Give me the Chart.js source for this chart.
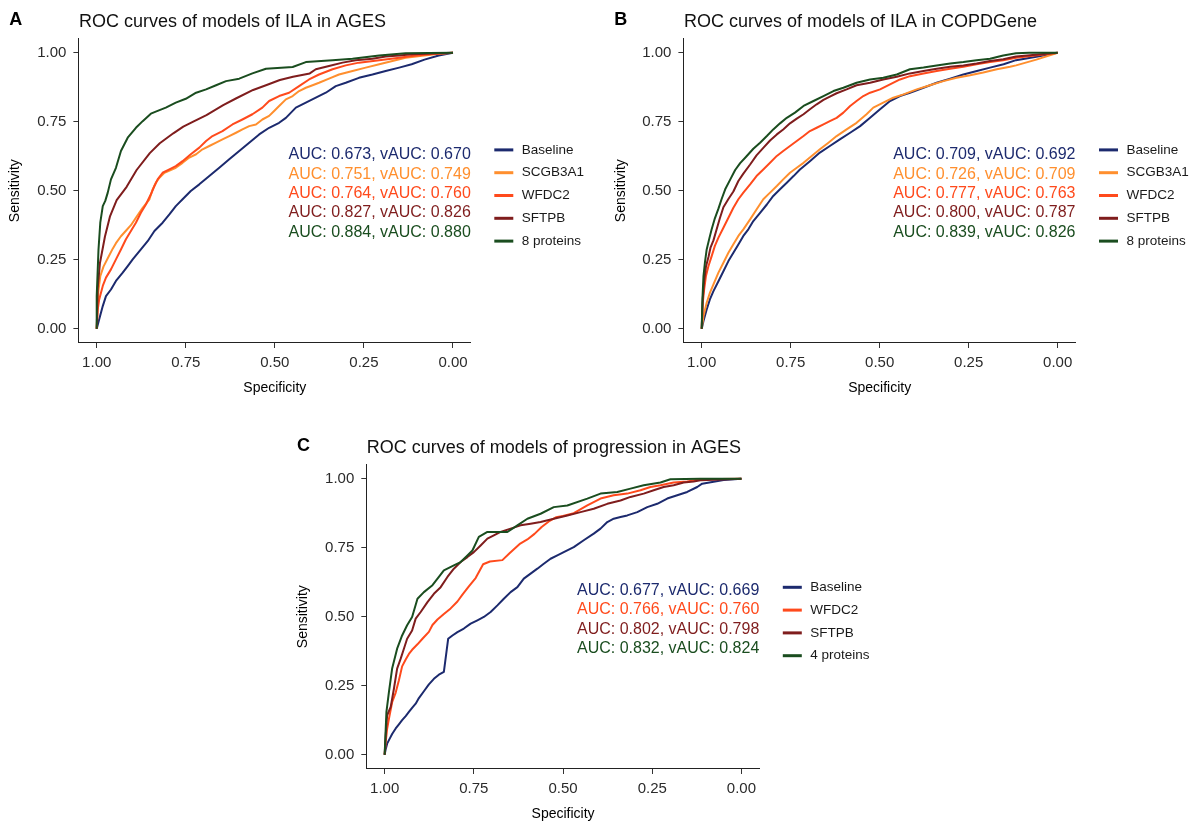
<!DOCTYPE html>
<html>
<head>
<meta charset="utf-8">
<title>ROC curves of protein models</title>
<script src="https://cdn.jsdelivr.net/npm/chart.js@4.4.1/dist/chart.umd.min.js"></script>
<style>
  html, body { margin: 0; padding: 0; background: #ffffff; }
  body { width: 1200px; height: 822px; position: relative; overflow: hidden; }
  canvas { position: absolute; }
</style>
</head>
<body>
<canvas id="panelA" width="600" height="410" style="left:0px;top:0px"></canvas>
<canvas id="panelB" width="600" height="410" style="left:600px;top:0px"></canvas>
<canvas id="panelC" width="600" height="402" style="left:290px;top:420px"></canvas>
<script>
// ---------- tick values ----------
const SPEC_TICKS = [0, 0.25, 0.5, 0.75, 1];
const SENS_TICKS = [0, 0.25, 0.5, 0.75, 1];

// ---------- A: ILA in AGES ----------
const agesIlaModels = ['Baseline', 'SCGB3A1', 'WFDC2', 'SFTPB', '8 proteins'];
const agesIlaAuc  = [0.673, 0.751, 0.764, 0.827, 0.884];
const agesIlaVAuc = [0.670, 0.749, 0.760, 0.826, 0.880];
// [specificity, sensitivity]
const agesIlaBaseline = [[1,0],[0.993,0.034],[0.983,0.082],[0.974,0.118],[0.960,0.142],[0.946,0.173],[0.927,0.203],[0.913,0.227],[0.899,0.251],[0.876,0.287],[0.857,0.317],[0.838,0.354],[0.815,0.384],[0.796,0.414],[0.778,0.444],[0.759,0.469],[0.736,0.499],[0.712,0.523],[0.684,0.553],[0.656,0.583],[0.628,0.614],[0.600,0.644],[0.572,0.674],[0.544,0.704],[0.516,0.728],[0.488,0.746],[0.469,0.764],[0.441,0.801],[0.413,0.819],[0.385,0.837],[0.357,0.855],[0.329,0.879],[0.301,0.891],[0.264,0.909],[0.226,0.921],[0.189,0.934],[0.151,0.946],[0.116,0.958],[0.080,0.975],[0.040,0.990],[0,1]];
const agesIlaScgb3a1 = [[1,0],[0.998,0.070],[0.995,0.140],[0.990,0.190],[0.981,0.225],[0.969,0.255],[0.955,0.290],[0.946,0.310],[0.932,0.335],[0.918,0.355],[0.904,0.375],[0.890,0.402],[0.871,0.438],[0.852,0.469],[0.843,0.505],[0.834,0.529],[0.824,0.547],[0.810,0.565],[0.778,0.583],[0.759,0.601],[0.740,0.620],[0.721,0.632],[0.703,0.650],[0.684,0.662],[0.665,0.674],[0.647,0.686],[0.628,0.698],[0.609,0.710],[0.591,0.722],[0.572,0.734],[0.553,0.740],[0.535,0.758],[0.516,0.771],[0.502,0.789],[0.488,0.807],[0.469,0.831],[0.450,0.843],[0.432,0.861],[0.413,0.873],[0.394,0.882],[0.376,0.891],[0.348,0.906],[0.320,0.921],[0.282,0.934],[0.245,0.946],[0.207,0.958],[0.170,0.970],[0.133,0.982],[0.080,0.990],[0.040,0.996],[0,1]];
const agesIlaWfdc2 = [[1,0],[0.997,0.070],[0.993,0.106],[0.983,0.155],[0.974,0.185],[0.960,0.215],[0.946,0.251],[0.932,0.287],[0.918,0.324],[0.904,0.354],[0.890,0.384],[0.876,0.420],[0.862,0.450],[0.848,0.487],[0.838,0.517],[0.829,0.541],[0.815,0.565],[0.796,0.577],[0.778,0.589],[0.759,0.607],[0.736,0.632],[0.712,0.656],[0.693,0.680],[0.675,0.698],[0.647,0.716],[0.619,0.740],[0.591,0.758],[0.563,0.777],[0.535,0.801],[0.516,0.825],[0.488,0.843],[0.460,0.855],[0.432,0.879],[0.404,0.903],[0.376,0.921],[0.338,0.940],[0.301,0.954],[0.264,0.964],[0.207,0.973],[0.151,0.982],[0.116,0.988],[0.060,0.995],[0,1]];
const agesIlaSftpb = [[1,0],[0.997,0.150],[0.991,0.237],[0.977,0.333],[0.963,0.406],[0.944,0.466],[0.916,0.514],[0.888,0.575],[0.851,0.636],[0.823,0.672],[0.785,0.708],[0.757,0.732],[0.729,0.750],[0.692,0.774],[0.645,0.810],[0.608,0.835],[0.561,0.865],[0.523,0.883],[0.486,0.901],[0.449,0.913],[0.402,0.925],[0.385,0.940],[0.348,0.952],[0.310,0.964],[0.273,0.973],[0.226,0.978],[0.189,0.986],[0.151,0.990],[0.116,0.994],[0,1]];
const agesIla8Proteins = [[1,0],[1,0.118],[0.995,0.287],[0.990,0.384],[0.983,0.444],[0.976,0.463],[0.969,0.493],[0.960,0.541],[0.946,0.583],[0.932,0.644],[0.913,0.692],[0.890,0.728],[0.871,0.752],[0.848,0.779],[0.829,0.789],[0.806,0.801],[0.778,0.819],[0.750,0.833],[0.721,0.855],[0.693,0.867],[0.665,0.882],[0.637,0.897],[0.600,0.906],[0.563,0.925],[0.525,0.942],[0.450,0.948],[0.413,0.966],[0.338,0.973],[0.282,0.978],[0.207,0.990],[0.133,0.998],[0,1]];

// ---------- B: ILA in COPDGene ----------
const copdIlaModels = ['Baseline', 'SCGB3A1', 'WFDC2', 'SFTPB', '8 proteins'];
const copdIlaAuc  = [0.709, 0.726, 0.777, 0.800, 0.839];
const copdIlaVAuc = [0.692, 0.709, 0.763, 0.787, 0.826];
const copdIlaBaseline = [[1,0],[0.995,0.028],[0.986,0.070],[0.977,0.106],[0.967,0.136],[0.953,0.172],[0.939,0.208],[0.925,0.245],[0.911,0.275],[0.897,0.305],[0.883,0.336],[0.869,0.360],[0.855,0.390],[0.836,0.420],[0.817,0.450],[0.799,0.481],[0.780,0.505],[0.761,0.529],[0.742,0.553],[0.724,0.577],[0.696,0.607],[0.668,0.638],[0.640,0.662],[0.612,0.686],[0.583,0.710],[0.555,0.734],[0.527,0.764],[0.499,0.795],[0.471,0.825],[0.443,0.843],[0.415,0.855],[0.377,0.873],[0.340,0.891],[0.302,0.906],[0.265,0.921],[0.227,0.934],[0.190,0.946],[0.152,0.958],[0.117,0.973],[0.060,0.985],[0,1]];
const copdIlaScgb3a1 = [[1,0],[0.995,0.046],[0.986,0.094],[0.977,0.130],[0.967,0.161],[0.953,0.203],[0.939,0.239],[0.925,0.275],[0.911,0.306],[0.897,0.336],[0.883,0.360],[0.864,0.396],[0.846,0.432],[0.827,0.469],[0.808,0.493],[0.789,0.517],[0.771,0.541],[0.752,0.565],[0.733,0.583],[0.714,0.601],[0.691,0.626],[0.668,0.650],[0.644,0.674],[0.621,0.698],[0.593,0.722],[0.565,0.746],[0.537,0.777],[0.518,0.801],[0.490,0.819],[0.462,0.837],[0.433,0.849],[0.396,0.867],[0.359,0.882],[0.321,0.897],[0.284,0.909],[0.246,0.918],[0.209,0.928],[0.171,0.940],[0.134,0.949],[0.117,0.954],[0.060,0.975],[0,1]];
const copdIlaWfdc2 = [[1,0],[0.997,0.094],[0.993,0.143],[0.988,0.191],[0.981,0.227],[0.972,0.263],[0.963,0.300],[0.953,0.330],[0.939,0.366],[0.925,0.402],[0.911,0.438],[0.897,0.469],[0.883,0.493],[0.864,0.523],[0.846,0.553],[0.827,0.577],[0.808,0.601],[0.789,0.626],[0.771,0.644],[0.752,0.662],[0.733,0.680],[0.714,0.698],[0.696,0.716],[0.677,0.728],[0.658,0.740],[0.640,0.752],[0.621,0.764],[0.602,0.783],[0.583,0.807],[0.565,0.825],[0.546,0.843],[0.527,0.855],[0.499,0.867],[0.471,0.885],[0.443,0.903],[0.415,0.915],[0.377,0.925],[0.340,0.934],[0.302,0.942],[0.265,0.949],[0.228,0.958],[0.190,0.966],[0.153,0.973],[0.117,0.982],[0,1]];
const copdIlaSftpb = [[1,0],[0.997,0.110],[0.993,0.175],[0.988,0.225],[0.981,0.260],[0.975,0.295],[0.967,0.320],[0.958,0.360],[0.949,0.400],[0.939,0.440],[0.925,0.470],[0.911,0.497],[0.897,0.535],[0.883,0.562],[0.864,0.595],[0.846,0.628],[0.827,0.655],[0.808,0.682],[0.789,0.704],[0.771,0.722],[0.752,0.744],[0.733,0.761],[0.714,0.777],[0.696,0.795],[0.677,0.813],[0.658,0.829],[0.640,0.841],[0.621,0.853],[0.593,0.867],[0.565,0.882],[0.527,0.891],[0.490,0.903],[0.452,0.913],[0.415,0.925],[0.377,0.934],[0.340,0.942],[0.302,0.949],[0.265,0.954],[0.228,0.961],[0.190,0.970],[0.153,0.976],[0.117,0.986],[0,1]];
const copdIla8Proteins = [[1,0],[0.998,0.106],[0.995,0.191],[0.991,0.239],[0.986,0.287],[0.978,0.330],[0.972,0.360],[0.963,0.400],[0.953,0.435],[0.944,0.470],[0.934,0.505],[0.920,0.540],[0.906,0.575],[0.892,0.600],[0.874,0.625],[0.855,0.652],[0.836,0.674],[0.817,0.698],[0.799,0.722],[0.780,0.744],[0.761,0.764],[0.738,0.783],[0.714,0.807],[0.686,0.825],[0.658,0.843],[0.630,0.861],[0.602,0.873],[0.565,0.891],[0.527,0.903],[0.490,0.909],[0.452,0.921],[0.415,0.940],[0.377,0.946],[0.340,0.954],[0.302,0.961],[0.265,0.966],[0.228,0.973],[0.190,0.978],[0.153,0.990],[0.117,0.998],[0.080,1],[0,1]];

// ---------- C: progression in AGES ----------
const agesProgModels = ['Baseline', 'WFDC2', 'SFTPB', '4 proteins'];
const agesProgAuc  = [0.677, 0.766, 0.802, 0.832];
const agesProgVAuc = [0.669, 0.760, 0.798, 0.824];
const agesProgBaseline = [[1,0],[0.997,0.020],[0.993,0.040],[0.985,0.060],[0.979,0.075],[0.969,0.095],[0.960,0.110],[0.951,0.125],[0.941,0.140],[0.932,0.155],[0.923,0.170],[0.913,0.185],[0.904,0.205],[0.890,0.230],[0.876,0.255],[0.862,0.275],[0.848,0.290],[0.834,0.300],[0.830,0.340],[0.826,0.380],[0.822,0.420],[0.810,0.432],[0.796,0.444],[0.778,0.457],[0.759,0.475],[0.740,0.487],[0.722,0.499],[0.703,0.517],[0.684,0.541],[0.666,0.565],[0.647,0.589],[0.628,0.607],[0.610,0.638],[0.591,0.656],[0.572,0.674],[0.554,0.692],[0.535,0.710],[0.516,0.722],[0.498,0.734],[0.470,0.752],[0.442,0.777],[0.414,0.801],[0.395,0.819],[0.376,0.843],[0.358,0.855],[0.339,0.861],[0.320,0.867],[0.292,0.879],[0.264,0.897],[0.236,0.909],[0.208,0.928],[0.180,0.940],[0.152,0.952],[0.124,0.970],[0.110,0.982],[0.050,0.995],[0,1]];
const agesProgWfdc2 = [[1,0],[0.997,0.046],[0.993,0.094],[0.988,0.130],[0.979,0.190],[0.969,0.225],[0.960,0.270],[0.951,0.320],[0.941,0.345],[0.932,0.365],[0.923,0.380],[0.908,0.400],[0.894,0.420],[0.876,0.445],[0.866,0.470],[0.852,0.490],[0.834,0.510],[0.815,0.530],[0.796,0.555],[0.782,0.580],[0.764,0.610],[0.745,0.640],[0.724,0.690],[0.705,0.700],[0.670,0.705],[0.650,0.730],[0.620,0.765],[0.600,0.780],[0.580,0.800],[0.560,0.825],[0.540,0.845],[0.520,0.860],[0.500,0.865],[0.470,0.875],[0.432,0.903],[0.395,0.928],[0.358,0.940],[0.320,0.946],[0.283,0.958],[0.255,0.970],[0.227,0.976],[0.190,0.986],[0.152,0.990],[0.115,0.998],[0,1]];
const agesProgSftpb = [[1,0],[0.997,0.070],[0.993,0.143],[0.983,0.173],[0.974,0.239],[0.965,0.312],[0.955,0.348],[0.946,0.384],[0.937,0.420],[0.923,0.450],[0.913,0.493],[0.899,0.517],[0.880,0.553],[0.862,0.583],[0.843,0.607],[0.824,0.644],[0.806,0.674],[0.787,0.698],[0.768,0.716],[0.750,0.734],[0.731,0.758],[0.712,0.783],[0.694,0.795],[0.675,0.807],[0.647,0.819],[0.619,0.831],[0.591,0.837],[0.563,0.843],[0.526,0.855],[0.488,0.867],[0.451,0.879],[0.414,0.891],[0.376,0.909],[0.339,0.921],[0.311,0.934],[0.274,0.946],[0.246,0.958],[0.218,0.970],[0.190,0.976],[0.162,0.986],[0.134,0.990],[0.115,0.994],[0,1]];
const agesProg4Proteins = [[1,0],[0.997,0.094],[0.995,0.155],[0.988,0.227],[0.979,0.312],[0.965,0.384],[0.951,0.432],[0.937,0.469],[0.923,0.499],[0.908,0.565],[0.890,0.589],[0.866,0.614],[0.848,0.644],[0.834,0.668],[0.806,0.686],[0.787,0.698],[0.768,0.722],[0.754,0.740],[0.736,0.789],[0.712,0.807],[0.656,0.807],[0.628,0.831],[0.600,0.855],[0.563,0.873],[0.526,0.897],[0.488,0.903],[0.432,0.928],[0.395,0.946],[0.348,0.952],[0.311,0.964],[0.274,0.976],[0.227,0.986],[0.199,0.998],[0.115,1],[0,1]];

// ---------- styling ----------
const FONT = '"Liberation Sans", Arial, Helvetica, sans-serif';
const COLOR_BASELINE = '#1C2A6E';
const COLOR_SCGB3A1 = '#FF8F2E';
const COLOR_WFDC2 = '#FF4A1C';
const COLOR_SFTPB = '#7F1D1D';
const COLOR_COMBINED = '#1A4D1F';

Chart.defaults.font.family = FONT;

// Panel letter, title, AUC annotations and key drawn around the plot area
const panelDecor = {
  id: 'panelDecor',
  afterDraw(chart, args, opts) {
    const {ctx, chartArea: area} = chart;
    const yScale = chart.scales.y;
    ctx.save();

    ctx.fillStyle = '#000';
    ctx.textBaseline = 'alphabetic';
    ctx.textAlign = 'left';
    ctx.font = `bold 18px ${FONT}`;
    ctx.fillText(opts.letter, area.left - 69.7, area.top - 13.5);
    ctx.font = `18px ${FONT}`;
    ctx.fillStyle = '#111';
    ctx.fillText(opts.title, area.left, area.top - 11.5);

    // AUC / validated AUC lines, right-aligned on the plot edge
    ctx.textAlign = 'right';
    ctx.textBaseline = 'middle';
    ctx.font = `16px ${FONT}`;
    opts.auc.forEach((a, i) => {
      ctx.fillStyle = opts.colors[i];
      const y = yScale.getPixelForValue(opts.aucTop - 0.07 * i);
      ctx.fillText(`AUC: ${a.toFixed(3)}, vAUC: ${opts.vauc[i].toFixed(3)}`, area.right, y);
    });

    // key
    const n = chart.data.datasets.length;
    const midY = (area.top + area.bottom) / 2 + 4.8;
    ctx.textAlign = 'left';
    ctx.font = `13.5px ${FONT}`;
    chart.data.datasets.forEach((ds, i) => {
      const y = midY + (i - (n - 1) / 2) * 22.8;
      ctx.strokeStyle = ds.borderColor;
      ctx.lineWidth = 3;
      ctx.beginPath();
      ctx.moveTo(area.right + 23.5, y);
      ctx.lineTo(area.right + 42.5, y);
      ctx.stroke();
      ctx.fillStyle = '#1a1a1a';
      ctx.fillText(ds.label, area.right + 51, y);
    });
    ctx.restore();
  }
};

function axisOptions(isX, geo) {
  const base = {
    type: 'linear',
    min: -0.05,
    max: 1.05,
    reverse: isX,
    afterBuildTicks: (s) => { s.ticks = (isX ? SPEC_TICKS : SENS_TICKS).map(v => ({value: v})); },
    ticks: {
      callback: (v) => Number(v).toFixed(2),
      color: '#2b2b2b',
      font: {size: 15, family: FONT},
      padding: isX ? 5.5 : 7,
      maxRotation: 0,
      autoSkip: false
    },
    grid: {
      display: true,
      drawOnChartArea: false,
      drawTicks: true,
      tickLength: 5.5,
      color: '#333',
      lineWidth: 1
    },
    border: {display: true, color: '#222', width: 1},
    title: {
      display: true,
      text: isX ? 'Specificity' : 'Sensitivity',
      color: '#000',
      font: {size: 14, family: FONT, lineHeight: 1},
      padding: isX ? {top: 0, bottom: 0} : {top: geo.yTitlePad, bottom: 0}
    }
  };
  if (isX) base.afterFit = (s) => { s.height = geo.xHeight; };
  else base.afterFit = (s) => { s.width = geo.yWidth; };
  return base;
}

function buildPanel(id, geo, panel) {
  const datasets = panel.models.map((name, i) => ({
    label: name,
    data: panel.curves[i].map(([s, v]) => ({x: s, y: v})),
    borderColor: panel.colors[i],
    backgroundColor: panel.colors[i],
    borderWidth: 2,
    borderJoinStyle: 'round',
    pointRadius: 0,
    pointHoverRadius: 0,
    tension: 0,
    fill: false,
    order: panel.models.length - i
  }));
  return new Chart(document.getElementById(id), {
    type: 'line',
    data: {datasets},
    options: {
      responsive: false,
      animation: false,
      devicePixelRatio: 1,
      layout: {padding: geo.padding},
      plugins: {
        legend: {display: false},
        tooltip: {enabled: false},
        panelDecor: {
          letter: panel.letter,
          title: panel.title,
          auc: panel.auc,
          vauc: panel.vauc,
          colors: panel.colors,
          aucTop: panel.aucTop
        }
      },
      scales: {
        x: axisOptions(true, geo),
        y: axisOptions(false, geo)
      }
    },
    plugins: [panelDecor]
  });
}

buildPanel('panelA',
  {padding: {top: 38.9, right: 129.2, bottom: 15, left: 0}, yWidth: 78.9, xHeight: 52.5, yTitlePad: 8},
  {
    letter: 'A', title: 'ROC curves of models of ILA in AGES',
    models: agesIlaModels, auc: agesIlaAuc, vauc: agesIlaVAuc, aucTop: 0.63,
    colors: [COLOR_BASELINE, COLOR_SCGB3A1, COLOR_WFDC2, COLOR_SFTPB, COLOR_COMBINED],
    curves: [agesIlaBaseline, agesIlaScgb3a1, agesIlaWfdc2, agesIlaSftpb, agesIla8Proteins]
  });

buildPanel('panelB',
  {padding: {top: 38.9, right: 124.5, bottom: 15, left: 0}, yWidth: 83.9, xHeight: 52.5, yTitlePad: 13.7},
  {
    letter: 'B', title: 'ROC curves of models of ILA in COPDGene',
    models: copdIlaModels, auc: copdIlaAuc, vauc: copdIlaVAuc, aucTop: 0.63,
    colors: [COLOR_BASELINE, COLOR_SCGB3A1, COLOR_WFDC2, COLOR_SFTPB, COLOR_COMBINED],
    curves: [copdIlaBaseline, copdIlaScgb3a1, copdIlaWfdc2, copdIlaSftpb, copdIla8Proteins]
  });

buildPanel('panelC',
  {padding: {top: 44.9, right: 130.7, bottom: 1, left: 0}, yWidth: 76.8, xHeight: 52.5, yTitlePad: 6.4},
  {
    letter: 'C', title: 'ROC curves of models of progression in AGES',
    models: agesProgModels, auc: agesProgAuc, vauc: agesProgVAuc, aucTop: 0.595,
    colors: [COLOR_BASELINE, COLOR_WFDC2, COLOR_SFTPB, COLOR_COMBINED],
    curves: [agesProgBaseline, agesProgWfdc2, agesProgSftpb, agesProg4Proteins]
  });
</script>
</body>
</html>
